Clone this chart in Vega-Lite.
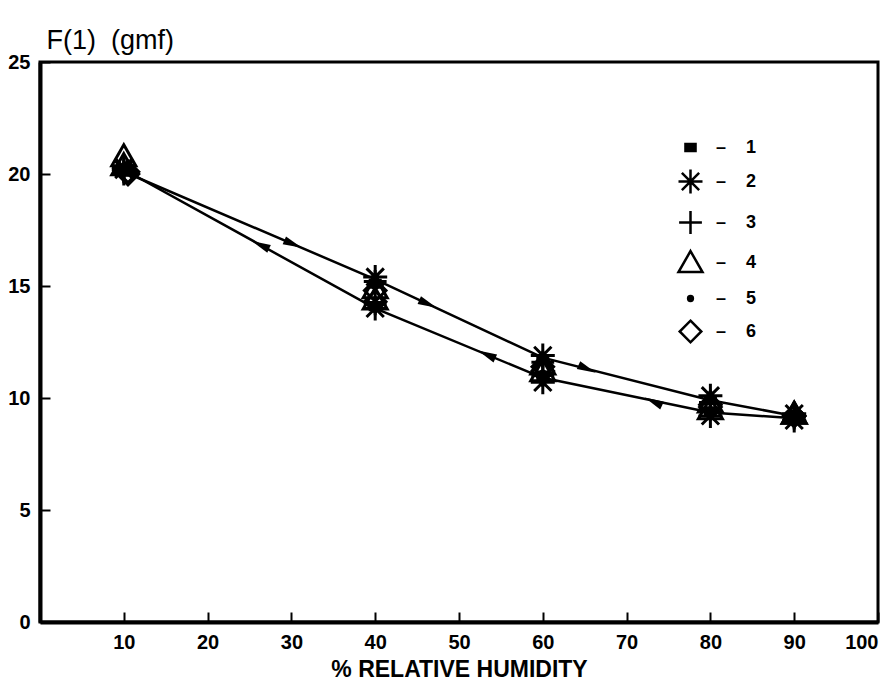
{
  "$schema": "https://vega.github.io/schema/vega-lite/v6.json",
  "width": 838,
  "height": 560,
  "autosize": {"type": "none"},
  "padding": {"left": 40, "top": 62, "right": 16, "bottom": 77},
  "background": "white",
  "config": {
    "view": {"stroke": "black", "strokeWidth": 3},
    "axis": {
      "grid": false,
      "domainColor": "black",
      "domainWidth": 4,
      "tickColor": "black",
      "tickWidth": 2,
      "tickSize": -10,
      "labelColor": "black",
      "labelFont": "Liberation Sans",
      "labelFontWeight": "bold",
      "labelFontSize": 20,
      "titleColor": "black"
    }
  },
  "resolve": {"scale": {"shape": "independent", "angle": "independent"}, "legend": {"shape": "independent"}},
  "datasets": {
    "curves": [
      {"rh": 10, "f": 20.1, "branch": "adsorption", "step": 1},
      {"rh": 40, "f": 15.3, "branch": "adsorption", "step": 2},
      {"rh": 60, "f": 11.8, "branch": "adsorption", "step": 3},
      {"rh": 80, "f": 9.9, "branch": "adsorption", "step": 4},
      {"rh": 90, "f": 9.2, "branch": "adsorption", "step": 5},
      {"rh": 90, "f": 9.1, "branch": "desorption", "step": 1},
      {"rh": 80, "f": 9.35, "branch": "desorption", "step": 2},
      {"rh": 60, "f": 10.9, "branch": "desorption", "step": 3},
      {"rh": 40, "f": 14.0, "branch": "desorption", "step": 4},
      {"rh": 10, "f": 20.2, "branch": "desorption", "step": 5}
    ],
    "arrows": [
      {"rh": 30.2, "f": 16.87, "seg": "a1"},
      {"rh": 46.3, "f": 14.2, "seg": "a2"},
      {"rh": 65.3, "f": 11.3, "seg": "a3"},
      {"rh": 26.3, "f": 16.83, "seg": "d1"},
      {"rh": 53.3, "f": 11.94, "seg": "d2"},
      {"rh": 73.2, "f": 9.84, "seg": "d3"}
    ],
    "markers": [
      {"rh": 10, "f": 20.1, "series": "1"}, {"rh": 40, "f": 15.1, "series": "1"}, {"rh": 60, "f": 11.7, "series": "1"}, {"rh": 80, "f": 9.9, "series": "1"}, {"rh": 90, "f": 9.2, "series": "1"},
      {"rh": 90, "f": 9.1, "series": "1"}, {"rh": 80, "f": 9.4, "series": "1"}, {"rh": 60, "f": 11.0, "series": "1"}, {"rh": 40, "f": 14.1, "series": "1"}, {"rh": 10, "f": 20.2, "series": "1"},
      {"rh": 10, "f": 20.2, "series": "2"}, {"rh": 40, "f": 15.4, "series": "2"}, {"rh": 60, "f": 11.9, "series": "2"}, {"rh": 80, "f": 10.1, "series": "2"}, {"rh": 90, "f": 9.3, "series": "2"},
      {"rh": 90, "f": 9.0, "series": "2"}, {"rh": 80, "f": 9.2, "series": "2"}, {"rh": 60, "f": 10.7, "series": "2"}, {"rh": 40, "f": 14.0, "series": "2"}, {"rh": 10, "f": 20.3, "series": "2"},
      {"rh": 10, "f": 20.0, "series": "3"}, {"rh": 40, "f": 15.2, "series": "3"}, {"rh": 60, "f": 11.6, "series": "3"}, {"rh": 80, "f": 9.8, "series": "3"}, {"rh": 90, "f": 9.1, "series": "3"},
      {"rh": 90, "f": 9.2, "series": "3"}, {"rh": 80, "f": 9.5, "series": "3"}, {"rh": 60, "f": 11.0, "series": "3"}, {"rh": 40, "f": 14.2, "series": "3"}, {"rh": 10, "f": 20.1, "series": "3"},
      {"rh": 10, "f": 20.8, "series": "4"}, {"rh": 40, "f": 14.9, "series": "4"}, {"rh": 60, "f": 11.5, "series": "4"}, {"rh": 80, "f": 9.8, "series": "4"}, {"rh": 90, "f": 9.3, "series": "4"},
      {"rh": 90, "f": 9.3, "series": "4"}, {"rh": 80, "f": 9.5, "series": "4"}, {"rh": 60, "f": 11.2, "series": "4"}, {"rh": 40, "f": 14.4, "series": "4"}, {"rh": 10, "f": 20.4, "series": "4"},
      {"rh": 10, "f": 20.1, "series": "5"}, {"rh": 40, "f": 15.0, "series": "5"}, {"rh": 60, "f": 11.8, "series": "5"}, {"rh": 80, "f": 9.9, "series": "5"}, {"rh": 90, "f": 9.2, "series": "5"},
      {"rh": 90, "f": 9.1, "series": "5"}, {"rh": 80, "f": 9.4, "series": "5"}, {"rh": 60, "f": 11.1, "series": "5"}, {"rh": 40, "f": 14.0, "series": "5"}, {"rh": 10, "f": 20.2, "series": "5"},
      {"rh": 10.5, "f": 20.1, "series": "6"}, {"rh": 40, "f": 14.8, "series": "6"}, {"rh": 60, "f": 11.4, "series": "6"}, {"rh": 80, "f": 9.7, "series": "6"}, {"rh": 90, "f": 9.2, "series": "6"},
      {"rh": 90, "f": 9.2, "series": "6"}, {"rh": 80, "f": 9.6, "series": "6"}, {"rh": 60, "f": 11.2, "series": "6"}, {"rh": 40, "f": 14.3, "series": "6"}, {"rh": 10.5, "f": 20.0, "series": "6"}
    ]
  },
  "layer": [
    {
      "data": {"name": "curves"},
      "mark": {"type": "line", "color": "black", "strokeWidth": 2.5},
      "encoding": {
        "x": {
          "field": "rh", "type": "quantitative",
          "scale": {"domain": [0, 100], "nice": false},
          "axis": {
            "values": [10, 20, 30, 40, 50, 60, 70, 80, 90, 100],
            "labelPadding": 20,
            "title": "% RELATIVE HUMIDITY",
            "titleFont": "Liberation Sans",
            "titleFontWeight": "bold",
            "titleFontSize": 23,
            "titlePadding": 6
          }
        },
        "y": {
          "field": "f", "type": "quantitative",
          "scale": {"domain": [0, 25], "nice": false},
          "axis": {
            "values": [0, 5, 10, 15, 20, 25],
            "labelPadding": 20,
            "title": "F(1)\u00a0\u00a0(gmf)",
            "titleAngle": 0,
            "titleAlign": "left",
            "titleBaseline": "alphabetic",
            "titleX": 6,
            "titleY": -14,
            "titleFont": "Liberation Sans",
            "titleFontWeight": "normal",
            "titleFontSize": 27
          }
        },
        "detail": {"field": "branch"},
        "order": {"field": "step"}
      }
    },
    {
      "data": {"name": "arrows"},
      "mark": {"type": "point", "filled": true, "color": "black", "size": 361, "opacity": 1},
      "encoding": {
        "x": {"field": "rh", "type": "quantitative"},
        "y": {"field": "f", "type": "quantitative"},
        "shape": {
          "field": "seg", "type": "nominal",
          "scale": {
            "domain": ["a1", "a2", "a3", "d1", "d2", "d3"],
            "range": ["M-1,-0.45L1,0L-1,0.45Z", "M-1,-0.45L1,0L-1,0.45Z", "M-1,-0.45L1,0L-1,0.45Z", "M1,-0.45L-1,0L1,0.45Z", "M1,-0.45L-1,0L1,0.45Z", "M1,-0.45L-1,0L1,0.45Z"]
          },
          "legend": null
        },
        "angle": {
          "field": "seg", "type": "nominal",
          "scale": {"domain": ["a1", "a2", "a3", "d1", "d2", "d3"], "range": [23, 25, 14, 29, 22.5, 12]},
          "legend": null
        }
      }
    },
    {
      "data": {"name": "markers"},
      "mark": {"type": "point", "filled": false, "color": "black", "strokeWidth": 3, "size": 576, "opacity": 1},
      "encoding": {
        "x": {"field": "rh", "type": "quantitative"},
        "y": {"field": "f", "type": "quantitative"},
        "shape": {
          "field": "series", "type": "nominal",
          "scale": {
            "domain": ["1", "2", "3", "4", "5", "6"],
            "range": [
              "M-0.42,-0.3L0.42,-0.3L0.42,0.3L-0.42,0.3ZM-0.42,-0.1L0.42,-0.1M-0.42,0.1L0.42,0.1",
              "M0,-1L0,1M-1,0L1,0M-0.72,-0.72L0.72,0.72M-0.72,0.72L0.72,-0.72",
              "M0,-0.95L0,0.95M-0.95,0L0.95,0",
              "M0,-0.95L1,0.8L-1,0.8Z",
              "M-0.2,0A0.2,0.2 0 1,0 0.2,0A0.2,0.2 0 1,0 -0.2,0ZM-0.1,0L0.1,0",
              "M0,-0.9L0.9,0L0,0.9L-0.9,0Z"
            ]
          },
          "legend": {
            "title": null,
            "orient": "none",
            "legendX": 637,
            "legendY": 72,
            "padding": 0,
            "labelExpr": "'\u2013\u00a0\u00a0\u00a0\u00a0' + datum.label",
            "labelFont": "Liberation Sans",
            "labelFontWeight": "bold",
            "labelFontSize": 18,
            "labelColor": "black",
            "labelOffset": 12,
            "rowPadding": 7,
            "symbolSize": 576,
            "symbolStrokeColor": "black",
            "symbolFillColor": "transparent",
            "symbolStrokeWidth": 2.5
          }
        }
      }
    }
  ]
}
